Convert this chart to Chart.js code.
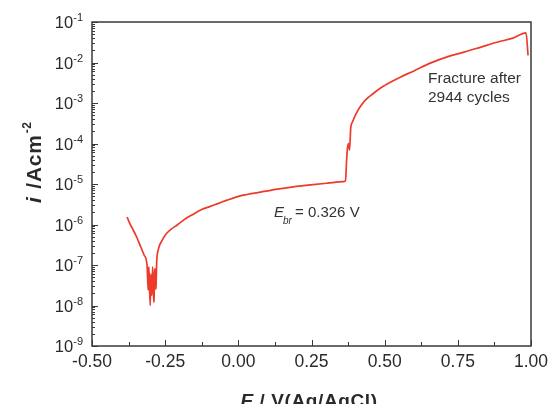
<!DOCTYPE html>
<html><head><meta charset="utf-8">
<script src="https://cdn.jsdelivr.net/npm/chart.js@4/dist/chart.umd.min.js"></script>
<style>html,body{margin:0;padding:0;background:#fff}#wrap{width:554px;height:404px;position:relative}</style>
</head><body><div id="wrap"><canvas id="c" width="554" height="404"></canvas></div>
<script>
// Potential E (V vs Ag/AgCl)
const potential = [-0.380,-0.373,-0.363,-0.349,-0.336,-0.322,-0.312,-0.308,-0.306,-0.304,-0.301,-0.299,-0.297,-0.295,-0.293,-0.291,-0.289,-0.288,-0.286,-0.284,-0.282,-0.281,-0.279,-0.277,-0.271,-0.260,-0.247,-0.229,-0.209,-0.182,-0.154,-0.127,-0.096,-0.038,0.017,0.075,0.134,0.188,0.247,0.305,0.360,0.366,0.370,0.373,0.377,0.380,0.384,0.390,0.404,0.418,0.435,0.459,0.486,0.521,0.555,0.600,0.658,0.716,0.771,0.829,0.887,0.938,0.983,0.990];
// Current density i (A cm^-2)
const currentDensity = [1.53e-6,1.15e-6,8.2e-7,5.2e-7,3.1e-7,1.77e-7,1.0e-7,2.4e-8,9.0e-8,4.0e-8,1.0e-8,6.0e-8,2.2e-8,1.8e-8,9.0e-8,4.5e-8,1.2e-8,1.4e-8,8.0e-8,7.6e-8,2.5e-8,3.2e-8,1.2e-7,1.8e-7,2.8e-7,4.1e-7,5.8e-7,7.7e-7,9.7e-7,1.37e-6,1.8e-6,2.3e-6,2.8e-6,4.0e-6,5.3e-6,6.3e-6,7.5e-6,8.5e-6,9.5e-6,1.05e-5,1.15e-5,1.2e-5,3.9e-5,7.8e-5,1.0e-4,6.9e-5,2.4e-4,3.4e-4,5.7e-4,8.4e-4,1.19e-3,1.67e-3,2.34e-3,3.3e-3,4.4e-3,6.2e-3,9.8e-3,1.4e-2,1.8e-2,2.4e-2,3.2e-2,4.0e-2,5.4e-2,1.5e-2];
const xTickValues = [-0.5,-0.25,0,0.25,0.5,0.75,1.0];
const xTickLabels = ['-0.50','-0.25','0.00','0.25','0.50','0.75','1.00'];
const xMinorValues = [-0.375,-0.125,0.125,0.375,0.625,0.875];
const yExponents = [-1,-2,-3,-4,-5,-6,-7,-8,-9];
const breakdownLabel = '0.326 V';
const noteLines = ['Fracture after','2944 cycles'];

const points = potential.map((e,k)=>({x:e,y:currentDensity[k]}));
const FONT = '"Liberation Sans", Arial, sans-serif';
const TXT = '#2a2a2a';

const deco = {
  id:'deco',
  afterDraw(chart){
    const ctx = chart.ctx, a = chart.chartArea;
    const xs = chart.scales.x, ys = chart.scales.y;
    ctx.save();
    ctx.strokeStyle = '#3a3a3a'; ctx.lineWidth = 1.5;
    ctx.strokeRect(a.left, a.top, a.right-a.left, a.bottom-a.top);
    ctx.lineWidth = 1;
    xTickValues.forEach(v=>{const p=Math.round(xs.getPixelForValue(v))+0.5;ctx.beginPath();ctx.moveTo(p,a.bottom);ctx.lineTo(p,a.bottom-6);ctx.stroke();});
    xMinorValues.forEach(v=>{const p=Math.round(xs.getPixelForValue(v))+0.5;ctx.beginPath();ctx.moveTo(p,a.bottom);ctx.lineTo(p,a.bottom-4);ctx.stroke();});
    yExponents.forEach(ex=>{
      const p=Math.round(ys.getPixelForValue(Math.pow(10,ex)))+0.5;
      ctx.beginPath();ctx.moveTo(a.left,p);ctx.lineTo(a.left+6,p);ctx.stroke();
      if(ex>-9){ for(let m=2;m<=9;m++){const q=Math.round(ys.getPixelForValue(m*Math.pow(10,ex-1)))+0.5;ctx.beginPath();ctx.moveTo(a.left,q);ctx.lineTo(a.left+3,q);ctx.stroke();} }
    });
    ctx.fillStyle = TXT; ctx.font = '17.5px '+FONT; ctx.textAlign='center'; ctx.textBaseline='alphabetic';
    xTickValues.forEach((v,k)=>{ctx.fillText(xTickLabels[k], xs.getPixelForValue(v), 367);});
    yExponents.forEach(ex=>{
      const p = ys.getPixelForValue(Math.pow(10,ex));
      ctx.font = '11px '+FONT; ctx.textAlign='left';
      const es = String(ex);
      const ew = ctx.measureText(es).width;
      const right = 83;
      ctx.fillText(es, right-ew, p-1);
      ctx.font = '16.5px '+FONT; ctx.textAlign='right';
      ctx.fillText('10', right-ew, p+6);
    });
    // x title
    ctx.textAlign='left';
    ctx.letterSpacing = '0.6px';
    ctx.font = 'italic bold 19px '+FONT;
    const t1='E', t2=' / V(Ag/AgCl)';
    const w1=ctx.measureText(t1).width; ctx.font='bold 19px '+FONT; const w2=ctx.measureText(t2).width;
    let sx = 309-(w1+w2)/2;
    ctx.font='italic bold 19px '+FONT; ctx.fillText(t1,sx,407);
    ctx.font='bold 19px '+FONT; ctx.fillText(t2,sx+w1,407);
    // y title (rotated)
    ctx.save(); ctx.translate(41,203); ctx.rotate(-Math.PI/2);
    ctx.letterSpacing = '0.8px';
    ctx.font='italic bold 21px '+FONT; ctx.fillText('i',0,0); let o=ctx.measureText('i').width+1;
    ctx.font='bold 21px '+FONT; ctx.fillText(' /Acm',o,0); o+=ctx.measureText(' /Acm').width;
    ctx.letterSpacing = '0.5px';
    ctx.font='bold 12px '+FONT; ctx.fillText('-2',o+1,-10);
    ctx.restore();
    ctx.letterSpacing = '0px';
    ctx.fillStyle = '#333'; ctx.font='15.5px '+FONT; ctx.textAlign='left';
    ctx.fillText(noteLines[0],428,83); ctx.fillText(noteLines[1],428,102);
    ctx.font='italic 15px '+FONT; ctx.fillText('E',274,217);
    ctx.font='italic 10px '+FONT; ctx.fillText('br',283,224);
    ctx.font='15px '+FONT; ctx.fillText('= '+breakdownLabel,295,217);
    ctx.restore();
  }
};

new Chart(document.getElementById('c'),{
  type:'scatter',
  data:{datasets:[{data:points,showLine:true,borderColor:'#ee3a2a',backgroundColor:'#ee3a2a',borderWidth:1.7,pointRadius:0,cubicInterpolationMode:'monotone'}]},
  options:{
    responsive:false,animation:false,devicePixelRatio:1,
    layout:{padding:{left:0,top:22,right:23,bottom:0}},
    plugins:{legend:{display:false},tooltip:{enabled:false}},
    scales:{
      x:{type:'linear',min:-0.5,max:1.0,grid:{display:false},border:{display:false},ticks:{display:false},afterFit(s){s.height=58;}},
      y:{type:'logarithmic',min:1e-9,max:1e-1,grid:{display:false},border:{display:false},ticks:{display:false},afterFit(s){s.width=92;}}
    }
  },
  plugins:[deco]
});
</script></body></html>
